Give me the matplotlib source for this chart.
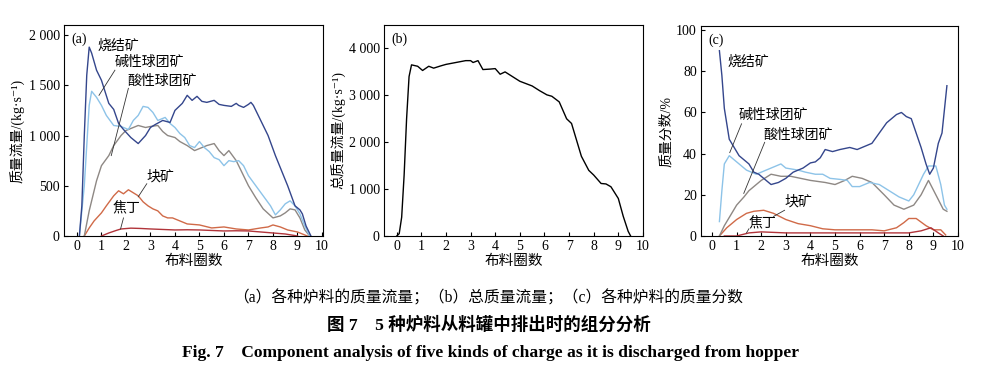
import matplotlib
matplotlib.use("Agg")
import matplotlib.pyplot as plt
from matplotlib.ticker import FuncFormatter

plt.rcParams['font.family'] = ['Liberation Serif', 'Noto Sans CJK SC', 'DejaVu Sans']
plt.rcParams['axes.unicode_minus'] = False

# colours for the five charge types
c_sinter = '#34468c'
c_alk = '#8dc3e8'
c_acid = '#8e8884'
c_lump = '#d06a48'
c_coke = '#b1343a'

# ---- (a) mass flow of each charge, kg/s ----
sinter_x = [0.1, 0.2, 0.3, 0.4, 0.5, 0.6, 0.8, 1.0, 1.3, 1.5, 1.7, 1.9, 2.2, 2.5, 2.8, 3.0, 3.2,
            3.5, 3.8, 4.0, 4.3, 4.5, 4.7, 4.9, 5.1, 5.3, 5.6, 5.8, 6.0, 6.3, 6.5, 6.6, 6.8, 7.0,
            7.1, 7.2, 7.4, 7.6, 7.8, 8.1, 8.4, 8.6, 8.9, 9.1, 9.2, 9.35, 9.55]
sinter_y = [0, 300, 1000, 1600, 1880, 1820, 1650, 1550, 1320, 1260, 1120, 1060, 980, 920, 1000,
            1080, 1110, 1150, 1130, 1250, 1320, 1400, 1350, 1390, 1340, 1330, 1350, 1310, 1300,
            1290, 1320, 1300, 1280, 1310, 1330, 1300, 1200, 1100, 1000, 800, 620, 500, 300,
            260, 220, 100, 0]

alk_x = [0.1, 0.3, 0.5, 0.6, 0.8, 1.0, 1.2, 1.5, 1.8, 2.1, 2.3, 2.5, 2.7, 2.9, 3.1, 3.3, 3.6,
         3.8, 4.0, 4.2, 4.4, 4.6, 4.8, 5.0, 5.2, 5.4, 5.6, 5.8, 6.0, 6.2, 6.4, 6.6, 6.8, 7.0,
         7.3, 7.6, 7.9, 8.1, 8.3, 8.5, 8.7, 8.9, 9.1, 9.3, 9.5]
alk_y = [0, 500, 1300, 1440, 1380, 1300, 1200, 1100, 1090, 1060, 1150, 1200, 1290, 1280, 1230,
         1150, 1180, 1120, 1080, 1020, 980, 900, 880, 940, 880, 840, 780, 760, 700, 750, 740,
         750, 700, 600, 500, 400, 300, 210, 260, 320, 350, 300, 220, 100, 0]

acid_x = [0.3, 0.5, 0.8, 1.0, 1.3, 1.5, 1.8, 2.0, 2.3, 2.5, 2.8, 3.0, 3.3, 3.5, 3.7, 4.0, 4.2,
          4.5, 4.8, 5.0, 5.3, 5.6, 5.8, 6.0, 6.2, 6.5, 6.8, 7.0, 7.3, 7.6, 8.0, 8.3, 8.5, 8.7,
          8.9, 9.1, 9.3, 9.5]
acid_y = [0, 250, 550, 700, 800, 900, 1000, 1050, 1080, 1100, 1080, 1090, 1100, 1040, 1000,
          980, 940, 900, 850, 870, 900, 920, 850, 800, 850, 750, 600, 500, 380, 270, 180, 200,
          230, 270, 260, 180, 60, 0]

lump_x = [0.3, 0.5, 0.7, 1.0, 1.2, 1.5, 1.7, 1.9, 2.1, 2.3, 2.5, 2.7, 2.9, 3.1, 3.3, 3.5, 3.7,
          3.9, 4.2, 4.5, 5.0, 5.5, 6.0, 6.5, 7.0, 7.5, 7.8, 8.0, 8.3, 8.6, 9.0, 9.4]
lump_y = [0, 80, 150, 230, 300, 400, 450, 420, 460, 430, 400, 340, 300, 270, 250, 200, 180,
          180, 150, 120, 110, 80, 90, 70, 60, 80, 90, 110, 90, 60, 40, 0]

coke_x = [1.0, 1.3, 1.6, 1.8, 2.2, 2.6, 3.0, 3.5, 4.0, 4.5, 5.0, 5.5, 6.0, 6.5, 7.0, 7.5, 8.0,
          8.5, 9.0]
coke_y = [0, 30, 55, 70, 78, 75, 70, 65, 60, 62, 60, 55, 50, 52, 50, 40, 30, 20, 0]

# ---- (b) total mass flow, kg/s ----
total_x = [0.0, 0.1, 0.2, 0.3, 0.4, 0.5, 0.6, 0.85, 1.05, 1.3, 1.5, 1.8, 2.0, 2.4, 2.6, 2.8,
           3.0, 3.1, 3.3, 3.5, 3.8, 4.0, 4.2, 4.4, 4.7, 5.0, 5.5, 5.8, 6.1, 6.3, 6.5, 6.6, 6.9,
           7.1, 7.3, 7.5, 7.8, 8.0, 8.3, 8.5, 8.7, 9.0, 9.2, 9.4, 9.5]
total_y = [0, 50, 400, 1300, 2500, 3400, 3650, 3620, 3530, 3620, 3580, 3630, 3660, 3700, 3720,
           3740, 3740, 3700, 3740, 3550, 3560, 3570, 3450, 3500, 3400, 3300, 3200, 3100, 3010,
           2980, 2900, 2860, 2500, 2400, 2050, 1700, 1400, 1300, 1120, 1110, 1050, 800, 420,
           100, 0]

# ---- (c) mass fraction of each charge, % ----
fs_x = [0.3, 0.4, 0.5, 0.7, 0.9, 1.1, 1.3, 1.5, 1.7, 1.9, 2.2, 2.4, 2.7, 3.0, 3.3, 3.7, 4.0,
        4.2, 4.4, 4.6, 4.9, 5.2, 5.6, 5.9, 6.1, 6.5, 6.8, 7.1, 7.5, 7.7, 7.9, 8.1, 8.3, 8.5,
        8.7, 8.85, 9.0, 9.2, 9.35, 9.55]
fs_y = [90, 78, 62, 47, 43, 39, 37, 35, 31, 30, 27, 25, 26, 28, 31, 33, 35.5, 36, 38, 42, 41,
        42, 43, 42, 43, 45, 50, 55, 59, 60, 58, 57, 50, 43, 35, 30, 33, 45, 50, 73]

fa_x = [0.3, 0.4, 0.5, 0.7, 1.0, 1.4, 1.8, 2.2, 2.6, 2.8, 3.0, 3.5, 3.8, 4.2, 4.5, 4.8, 5.2,
        5.5, 5.7, 6.0, 6.4, 6.8, 7.2, 7.6, 8.0, 8.2, 8.4, 8.6, 8.8, 9.1, 9.3, 9.45, 9.55]
fa_y = [7, 22, 35, 39, 36, 32, 30, 32, 34, 35, 33, 32, 31, 30, 30, 28, 27.5, 27, 24, 24, 26,
        25, 22, 19, 17, 20, 25, 30, 34, 34, 25, 15, 13]

fc_x = [0.3, 0.5, 0.8, 1.0, 1.3, 1.5, 1.8, 2.0, 2.4, 2.8, 3.2, 3.6, 4.0, 4.6, 5.0, 5.4, 5.7,
        6.1, 6.5, 7.0, 7.4, 7.8, 8.2, 8.5, 8.8, 9.1, 9.4, 9.55]
fc_y = [0, 5, 11, 15, 19, 22, 25, 27, 30, 29, 29, 28, 27, 26, 25, 27, 29, 28, 26, 20, 15, 13,
        15, 20, 27, 20, 13, 12]

fl_x = [0.3, 0.6, 1.0, 1.4, 1.7, 2.1, 2.5, 3.0, 3.5, 4.0, 4.5, 5.0, 5.5, 6.0, 6.5, 7.0, 7.5,
        7.8, 8.0, 8.3, 8.7, 9.0, 9.3, 9.5]
fl_y = [0, 4, 8, 11, 12, 12.5, 11, 8, 6, 5, 3.5, 3, 3, 3, 3, 2.5, 4, 6.5, 8.5, 8.5, 5, 3,
        3, 0.5]

fk_x = [0.5, 1.0, 1.5, 2.0, 3.0, 4.0, 5.0, 6.0, 7.0, 8.0, 8.5, 8.9, 9.2, 9.4]
fk_y = [0, 0, 1.5, 2, 1.5, 1.5, 1.5, 1.5, 1.5, 1.5, 2.5, 4, 1.5, 0]

xticks = list(range(0, 11))


def thousands(v, pos):
    return f"{int(round(v)):,}".replace(",", " ")


fig = plt.figure(figsize=(9.87, 3.71), dpi=100)
ax1 = fig.add_axes([0.0648, 0.3639, 0.2624, 0.5687])
ax2 = fig.add_axes([0.389, 0.3639, 0.2624, 0.5687])
ax3 = fig.add_axes([0.7102, 0.3639, 0.2604, 0.5660])

for ax in (ax1, ax2, ax3):
    ax.tick_params(direction='in', length=3, width=0.8, labelsize=10, pad=3)
    ax.set_xticks(xticks)
    for s in ax.spines.values():
        s.set_linewidth(0.8)
    ax.set_xlabel('布料圈数', fontsize=10.5, labelpad=1)

lw = 1.0
# (a)
ax1.plot(lump_x, lump_y, color=c_lump, lw=lw)
ax1.plot(coke_x, coke_y, color=c_coke, lw=lw)
ax1.plot(acid_x, acid_y, color=c_acid, lw=lw)
ax1.plot(alk_x, alk_y, color=c_alk, lw=lw)
ax1.plot(sinter_x, sinter_y, color=c_sinter, lw=lw)
ax1.set_xlim(-0.53, 10.04)
ax1.set_ylim(0, 2100)
ax1.set_yticks([0, 500, 1000, 1500, 2000])
ax1.yaxis.set_major_formatter(FuncFormatter(thousands))
ax1.set_ylabel('质量流量/(kg·s⁻¹)', fontsize=10, labelpad=2)
ax1.text(0.03, 0.965, '(a)', transform=ax1.transAxes, fontsize=10, va='top')
ax1.text(0.82, 1890, '烧结矿', fontsize=10, va='center')
ax1.text(1.55, 1725, '碱性球团矿', fontsize=10, va='center')
ax1.text(2.05, 1535, '酸性球团矿', fontsize=10, va='center')
ax1.text(2.85, 590, '块矿', fontsize=10, va='center')
ax1.text(1.45, 270, '焦丁', fontsize=10, va='center')
ax1.plot([1.55, 0.9], [1650, 1400], color='#333333', lw=0.6)
ax1.plot([2.1, 1.4], [1470, 800], color='#333333', lw=0.6)
ax1.plot([2.85, 2.5], [520, 390], color='#333333', lw=0.6)
ax1.plot([1.9, 1.78], [180, 70], color='#333333', lw=0.6)

# (b)
ax2.plot(total_x, total_y, color='black', lw=lw)
ax2.set_xlim(-0.52, 10.0)
ax2.set_ylim(0, 4500)
ax2.set_yticks([0, 1000, 2000, 3000, 4000])
ax2.yaxis.set_major_formatter(FuncFormatter(thousands))
ax2.set_ylabel('总质量流量/(kg·s⁻¹)', fontsize=10, labelpad=2)
ax2.text(0.03, 0.965, '(b)', transform=ax2.transAxes, fontsize=10, va='top')

# (c)
ax3.plot(fl_x, fl_y, color=c_lump, lw=lw)
ax3.plot(fk_x, fk_y, color=c_coke, lw=lw)
ax3.plot(fc_x, fc_y, color=c_acid, lw=lw)
ax3.plot(fa_x, fa_y, color=c_alk, lw=lw)
ax3.plot(fs_x, fs_y, color=c_sinter, lw=lw)
ax3.set_xlim(-0.45, 10.0)
ax3.set_ylim(0, 102)
ax3.set_yticks([0, 20, 40, 60, 80, 100])
ax3.set_ylabel('质量分数/%', fontsize=10, labelpad=2)
ax3.text(0.03, 0.965, '(c)', transform=ax3.transAxes, fontsize=10, va='top')
ax3.text(0.62, 84.5, '烧结矿', fontsize=10, va='center')
ax3.text(1.1, 58.5, '碱性球团矿', fontsize=10, va='center')
ax3.text(2.1, 49, '酸性球团矿', fontsize=10, va='center')
ax3.text(2.95, 16.5, '块矿', fontsize=10, va='center')
ax3.text(1.48, 6, '焦丁', fontsize=10, va='center')
ax3.plot([1.2, 0.72], [54.5, 40.5], color='#333333', lw=0.6)
ax3.plot([2.14, 1.29], [45.5, 20.7], color='#333333', lw=0.6)
ax3.plot([2.95, 2.5], [12.5, 9.5], color='#333333', lw=0.6)
ax3.plot([1.5, 1.4], [3.5, 1.5], color='#333333', lw=0.6)

# captions
fig.text(0.495, 0.197, '（a）各种炉料的质量流量；（b）总质量流量；（c）各种炉料的质量分数',
         ha='center', va='center', fontsize=11.3)
fig.text(0.495, 0.124, '图 7    5 种炉料从料罐中排出时的组分分析',
         ha='center', va='center', fontsize=12.6, fontweight='bold')
fig.text(0.497, 0.049, 'Fig. 7    Component analysis of five kinds of charge as it is discharged from hopper',
         ha='center', va='center', fontsize=12.6, fontweight='bold')

fig.savefig('out.png', dpi=100)
